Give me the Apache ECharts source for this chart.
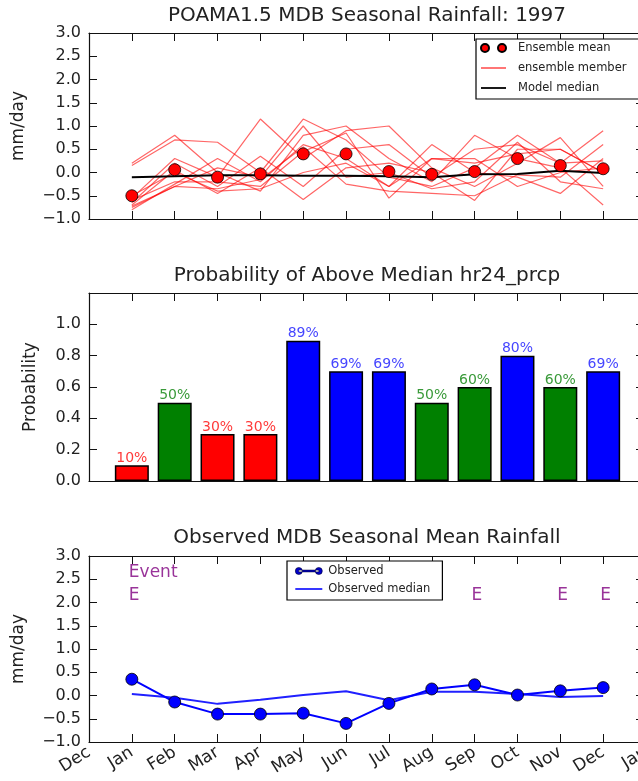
<!DOCTYPE html>
<html>
<head>
<meta charset="utf-8">
<script src="https://cdn.jsdelivr.net/npm/echarts@6/dist/echarts.min.js"></script>
<style>
  html, body { margin: 0; padding: 0; background: #fff; }
  #chart { width: 638px; height: 781px; }
</style>
</head>
<body>
<div id="chart"></div>
<script>
// months plotted, axis runs from Dec (before) to Jan (after)
const months = ['Jan', 'Feb', 'Mar', 'Apr', 'May', 'Jun', 'Jul', 'Aug', 'Sep', 'Oct', 'Nov', 'Dec']
const xLabels = ['Dec'].concat(months, ['Jan'])

// top panel: POAMA ensemble
const ensembleMean = [-0.5, 0.06, -0.1, -0.03, 0.4, 0.4, 0.02, -0.04, 0.02, 0.3, 0.15, 0.08]
const modelMedian = [-0.1, -0.08, -0.06, -0.06, -0.07, -0.07, -0.08, -0.1, -0.04, -0.03, 0.04, -0.01]
const member1 = [0.2, 0.8, 0.0, -0.4, 0.8, 1.0, 0.3, -0.2, 0.8, 0.3, 0.1, -0.7]
const member2 = [0.15, 0.7, 0.65, 0.0, 1.15, 0.7, -0.1, -0.3, 0.1, 0.8, 0.2, 0.9]
const member3 = [-0.55, 0.3, -0.1, 1.15, 0.3, 0.9, 1.0, 0.1, -0.3, 0.2, 0.75, -0.3]
const member4 = [-0.65, 0.2, -0.3, 0.35, -0.3, 0.5, 0.6, -0.1, 0.5, 0.6, 0.2, 0.25]
const member5 = [-0.8, -0.25, 0.3, -0.2, 0.6, 0.3, -0.3, 0.6, 0.0, -0.1, -0.45, 0.3]
const member6 = [-0.7, 0.05, -0.45, 0.1, -0.58, 0.1, 0.2, 0.0, -0.6, 0.5, 0.5, 0.0]
const member7 = [-0.6, -0.2, -0.2, -0.3, 0.45, 0.85, -0.55, 0.3, 0.3, -0.3, 0.0, 0.1]
const member8 = [-0.75, -0.3, 0.1, -0.1, 1.0, -0.1, 0.0, -0.35, -0.2, 0.65, -0.2, -0.35]
const member9 = [-0.5, 0.0, -0.4, -0.35, 0.0, 0.2, -0.3, 0.3, 0.2, 0.4, 0.5, 0.0]
const member10 = [-0.72, -0.3, -0.35, -0.15, 0.55, -0.25, -0.4, -0.45, -0.5, -0.05, -0.1, 0.6]
const members = [member1, member2, member3, member4, member5, member6, member7, member8, member9, member10]

// middle panel: probability of above median
const probAbove = [0.1, 0.5, 0.3, 0.3, 0.895, 0.7, 0.7, 0.5, 0.6, 0.8, 0.6, 0.7]
const probLabels = ['10%', '50%', '30%', '30%', '89%', '69%', '69%', '50%', '60%', '80%', '60%', '69%']

// bottom panel: observed
const observed = [0.35, -0.14, -0.4, -0.4, -0.38, -0.6, -0.17, 0.14, 0.23, 0.01, 0.1, 0.17]
const observedMedian = [0.03, -0.05, -0.18, -0.09, 0.01, 0.09, -0.1, 0.08, 0.08, 0.03, -0.03, -0.01]
const eventMonths = ['Jan', 'Sep', 'Nov', 'Dec']

const pad = a => ['-'].concat(a, ['-'])
const fmt = v => v.toFixed(1).replace('-', '\u2212')
const FONT = 'DejaVu Sans'
const TXT = '#222'
const LINE_ICON = 'path://M0,0L25,0L25,1.8L0,1.8Z'

const chart = echarts.init(document.getElementById('chart'))

const grids = [
  { left: 89, top: 33, width: 557, height: 186, outerBoundsMode: 'none' },
  { left: 89, top: 293, width: 557, height: 188, outerBoundsMode: 'none' },
  { left: 89, top: 556, width: 557, height: 186, outerBoundsMode: 'none' }
]

function xAxes(i, showLabels) {
  const base = {
    type: 'category',
    gridIndex: i,
    data: xLabels,
    boundaryGap: false,
    axisLine: { onZero: false, lineStyle: { color: '#111', width: 1.2 } },
    axisTick: { inside: true, length: 8, lineStyle: { color: '#111' } },
    splitLine: { show: false }
  }
  return [
    Object.assign({}, base, {
      position: 'bottom',
      axisLabel: showLabels ? {
        show: true, rotate: 32, margin: 9, fontSize: 17, fontFamily: FONT, color: TXT, interval: 0,
        hideOverlap: false
      } : { show: false }
    }),
    Object.assign({}, base, { position: 'top', axisLabel: { show: false } })
  ]
}

function yAxes(i, min, max, interval, name, nameGap, labelFmt) {
  const base = {
    type: 'value',
    gridIndex: i,
    min: min,
    max: max,
    interval: interval,
    axisLine: { show: true, onZero: false, lineStyle: { color: '#111', width: 1.2 } },
    axisTick: { show: true, inside: true, length: 8, lineStyle: { color: '#111' } },
    splitLine: { show: false }
  }
  return [
    Object.assign({}, base, {
      position: 'left',
      name: name,
      nameLocation: 'middle',
      nameGap: nameGap,
      nameTextStyle: { fontSize: 17, fontFamily: FONT, color: TXT },
      axisLabel: { fontSize: 16, fontFamily: FONT, color: TXT, margin: 8, formatter: labelFmt }
    }),
    Object.assign({}, base, {
      position: 'right',
      axisTick: { show: true, inside: true, length: 10, lineStyle: { color: '#111' } },
      axisLabel: { show: false }
    })
  ]
}

const series = []

members.forEach(m => {
  series.push({
    name: 'ensemble member',
    type: 'line',
    xAxisIndex: 0,
    yAxisIndex: 0,
    data: pad(m),
    symbol: 'none',
    lineStyle: { color: 'rgba(255,0,0,0.6)', width: 1.2 },
    itemStyle: { color: 'rgba(255,0,0,0.6)' },
    silent: true,
    z: 2
  })
})

series.push({
  name: 'Model median',
  type: 'line',
  xAxisIndex: 0,
  yAxisIndex: 0,
  data: pad(modelMedian),
  symbol: 'none',
  lineStyle: { color: '#000', width: 2 },
  itemStyle: { color: '#000' },
  z: 3
})

series.push({
  name: 'Ensemble mean',
  type: 'scatter',
  xAxisIndex: 0,
  yAxisIndex: 0,
  data: pad(ensembleMean),
  symbolSize: 12,
  itemStyle: { color: '#ff0000', borderColor: '#000', borderWidth: 0.8, opacity: 1 },
  z: 4
})

series.push({
  name: 'Probability',
  type: 'bar',
  xAxisIndex: 2,
  yAxisIndex: 2,
  barWidth: 34,
  data: pad(probAbove.map((v, k) => {
    const c = v < 0.45 ? 'red' : (v < 0.65 ? 'green' : 'blue')
    const fill = { red: '#ff0000', green: '#008000', blue: '#0000ff' }[c]
    const lab = { red: '#ff3b3b', green: '#3a9a3a', blue: '#4646ff' }[c]
    return {
      value: v,
      itemStyle: { color: fill, borderColor: '#000', borderWidth: 1.5 },
      label: { color: lab, formatter: probLabels[k] }
    }
  })),
  label: { show: true, position: 'top', distance: 0, fontSize: 14, fontFamily: FONT }
})

series.push({
  name: 'Observed',
  type: 'line',
  xAxisIndex: 4,
  yAxisIndex: 4,
  data: pad(observed),
  symbol: 'circle',
  symbolSize: 12,
  lineStyle: { color: '#0000ff', width: 2 },
  itemStyle: { color: '#0000ff', borderColor: '#000', borderWidth: 0.8 },
  z: 4
})

series.push({
  name: 'Observed median',
  type: 'line',
  xAxisIndex: 4,
  yAxisIndex: 4,
  data: pad(observedMedian),
  symbol: 'none',
  lineStyle: { color: '#2020ff', width: 2 },
  itemStyle: { color: '#2020ff' },
  z: 3
})

const eventLabel = { show: true, position: [-3, 0], align: 'left', verticalAlign: 'middle',
  fontSize: 17, fontFamily: FONT, color: '#800080' }

series.push({
  name: 'events',
  type: 'scatter',
  xAxisIndex: 4,
  yAxisIndex: 4,
  symbolSize: 0,
  data: eventMonths.map(m => [months.indexOf(m) + 1, 2.15]),
  label: Object.assign({}, eventLabel, { formatter: 'E' }),
  silent: true
})

series.push({
  name: 'eventTitle',
  type: 'scatter',
  xAxisIndex: 4,
  yAxisIndex: 4,
  symbolSize: 0,
  data: [[months.indexOf(eventMonths[0]) + 1, 2.65]],
  label: Object.assign({}, eventLabel, { formatter: 'Event' }),
  silent: true
})

const titleStyle = { fontSize: 20, fontWeight: 'normal', fontFamily: FONT, color: TXT }
const legendText = { fontSize: 11.5, fontFamily: FONT, color: TXT, lineHeight: 14 }

chart.setOption({
  animation: false,
  backgroundColor: '#fff',
  title: [
    { text: 'POAMA1.5 MDB Seasonal Rainfall: 1997', left: 367, top: 6, textAlign: 'center', padding: 0, textStyle: titleStyle },
    { text: 'Probability of Above Median hr24_prcp', left: 367, top: 266, textAlign: 'center', padding: 0, textStyle: titleStyle },
    { text: 'Observed MDB Seasonal Mean Rainfall', left: 367, top: 528, textAlign: 'center', padding: 0, textStyle: titleStyle }
  ],
  grid: grids,
  xAxis: xAxes(0, false).concat(xAxes(1, false), xAxes(2, true)),
  yAxis: yAxes(0, -1, 3, 0.5, 'mm/day', 62, fmt)
    .concat(yAxes(1, 0, 1.2, 0.2, 'Probability', 50, v => (v > 1.05 ? '' : fmt(v))))
    .concat(yAxes(2, -1, 3, 0.5, 'mm/day', 62, fmt)),
  legend: [
    {
      orient: 'vertical',
      left: 476,
      top: 39,
      padding: [2, 40, 4, 4],
      itemGap: 6,
      itemWidth: 25,
      itemHeight: 8,
      symbolKeepAspect: true,
      backgroundColor: '#fff',
      borderColor: '#000',
      borderWidth: 1.2,
      textStyle: Object.assign({ padding: [0, 0, 0, 7] }, legendText),
      selectedMode: false,
      data: [
        { name: 'Ensemble mean', icon: 'path://M0,4a4,4 0 1,0 8,0a4,4 0 1,0 -8,0Z M17,4a4,4 0 1,0 8,0a4,4 0 1,0 -8,0Z' },
        { name: 'ensemble member', icon: LINE_ICON, itemStyle: { borderWidth: 0 } },
        { name: 'Model median', icon: LINE_ICON, itemStyle: { borderWidth: 0 } }
      ]
    },
    {
      orient: 'vertical',
      left: 287,
      top: 561,
      padding: [3, 12, 4, 8],
      itemGap: 4,
      itemWidth: 27,
      itemHeight: 7,
      symbolKeepAspect: true,
      backgroundColor: '#fff',
      borderColor: '#000',
      borderWidth: 1.2,
      textStyle: Object.assign({ padding: [0, 0, 0, 1] }, legendText),
      selectedMode: false,
      data: [
        { name: 'Observed', icon: 'path://M0,3.5a3.5,3.5 0 1,0 7,0a3.5,3.5 0 1,0 -7,0Z M20,3.5a3.5,3.5 0 1,0 7,0a3.5,3.5 0 1,0 -7,0Z M3.5,2.6L23.5,2.6L23.5,4.4L3.5,4.4Z',
          itemStyle: { color: '#0000cc', borderColor: '#000033', borderWidth: 0.6 } },
        { name: 'Observed median', icon: 'path://M0,0L27,0L27,1.8L0,1.8Z', itemStyle: { borderWidth: 0 } }
      ]
    }
  ],
  series: series
})
</script>
</body>
</html>
